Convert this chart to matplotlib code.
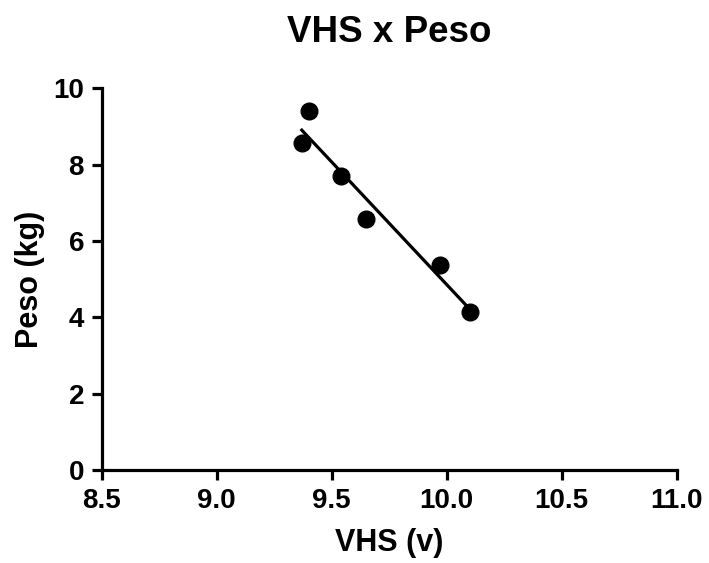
import numpy as np
import matplotlib
matplotlib.use("Agg")
import matplotlib.pyplot as plt

plt.rcParams['font.family'] = ['Liberation Sans', 'DejaVu Sans']
plt.rcParams['font.weight'] = 'bold'

# Data
vhs = [9.37, 9.40, 9.54, 9.65, 9.97, 10.10]
peso = [8.58, 9.41, 7.71, 6.58, 5.37, 4.15]
x_ticks = [8.5, 9.0, 9.5, 10.0, 10.5, 11.0]
x_tick_labels = ["8.5", "9.0", "9.5", "10.0", "10.5", "11.0"]
y_ticks = [0, 2, 4, 6, 8, 10]
title = "VHS x Peso"
x_label = "VHS (v)"
y_label = "Peso (kg)"

W, H = 709, 563
fig = plt.figure(figsize=(W / 100, H / 100), dpi=100)
left, right, bottom, top = 101.7, 676.7, 470.0, 88.3
ax = fig.add_axes([left / W, (H - bottom) / H, (right - left) / W, (bottom - top) / H])

# scatter points
ax.plot(vhs, peso, 'o', color='black', markersize=12, zorder=3, clip_on=False)

# linear regression line over data range
slope, intercept = np.polyfit(vhs, peso, 1)
xr = np.array([min(vhs), max(vhs)])
ax.plot(xr, slope * xr + intercept, color='black', linewidth=2.3, zorder=2)

ax.set_xlim(8.5, 11.0)
ax.set_ylim(0, 10)
ax.set_xticks(x_ticks)
ax.set_xticklabels(x_tick_labels)
ax.set_yticks(y_ticks)

for s in ['top', 'right']:
    ax.spines[s].set_visible(False)
for s in ['left', 'bottom']:
    ax.spines[s].set_linewidth(2.3)
    ax.spines[s].set_capstyle('projecting')

ax.tick_params(axis='both', direction='out', length=7.2, width=2.3, labelsize=20)
ax.tick_params(axis='x', pad=6)
ax.tick_params(axis='y', pad=5.5)
for lbl in ax.get_xticklabels() + ax.get_yticklabels():
    lbl.set_fontweight('bold')

ax.set_xlabel(x_label, fontsize=22, fontweight='bold')
ax.xaxis.set_label_coords(0.5, -0.152)
ax.set_ylabel(y_label, fontsize=22, fontweight='bold')
ax.yaxis.set_label_coords(-0.098, 0.5)

ax.text(0.5, (bottom - 41.7) / (bottom - top), title, transform=ax.transAxes,
        ha='center', va='baseline', fontsize=26.5, fontweight='bold')

fig.savefig("out.png", dpi=100)
